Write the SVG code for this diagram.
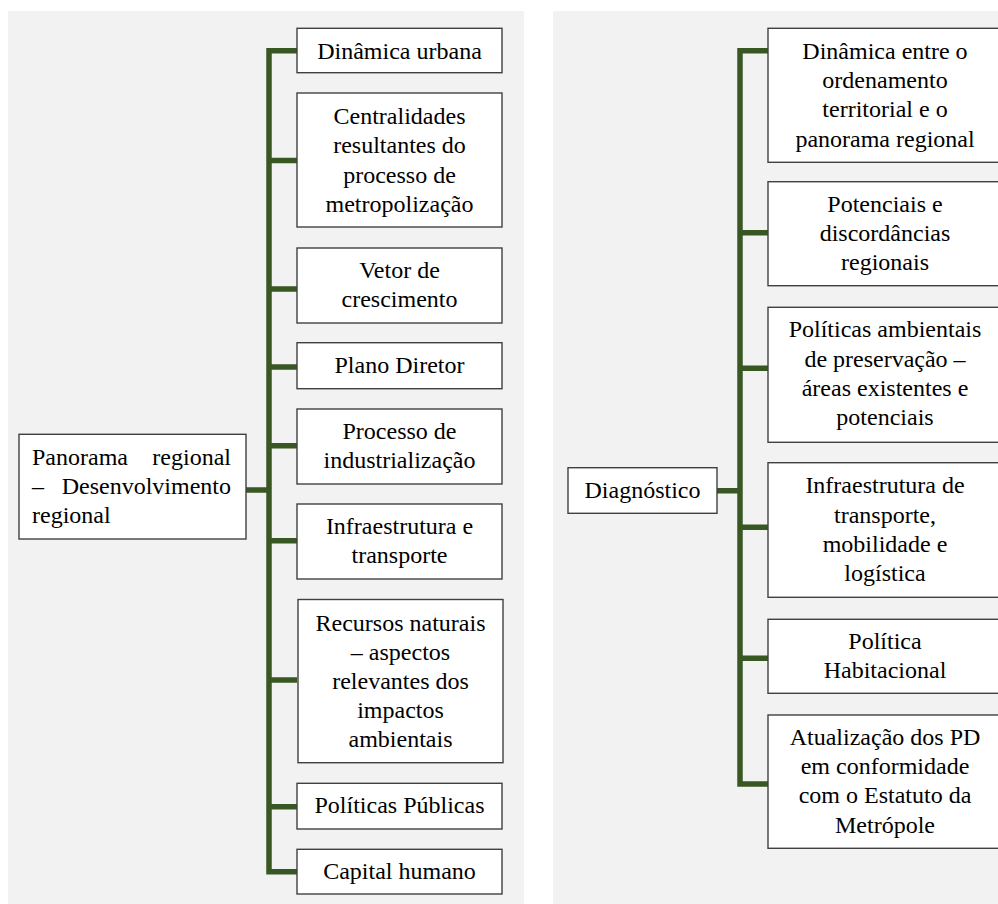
<svg xmlns="http://www.w3.org/2000/svg" width="998" height="904" viewBox="0 0 998 904">
<style>
.panel{fill:#f2f2f2;stroke:none}
.box{fill:#ffffff;stroke:#404040;stroke-width:1.4}
.t{font-family:'Liberation Serif','Times New Roman','DejaVu Serif',serif;font-size:24px;fill:#000000;text-anchor:middle}
.tl{font-family:'Liberation Serif','Times New Roman','DejaVu Serif',serif;font-size:24px;fill:#000000}
.c{fill:none;stroke:#385723;stroke-width:5.5;stroke-linejoin:miter;stroke-linecap:butt}
</style>
<rect width="998" height="904" fill="#ffffff"/>
<rect class="panel" x="8" y="11" width="516" height="893"/>
<rect class="panel" x="553" y="11" width="445" height="893"/>

<g id="connectors">
<path class="c" d="M297,50.7 H269 V871.7 H297"/>
<path class="c" d="M269,160.5 H297 M269,289 H297 M269,367 H297 M269,445.7 H297 M269,540.7 H297 M269,680 H297 M269,806.7 H297 M246,490 H269"/>
<path class="c" d="M768,50.7 H740 V784 H768"/>
<path class="c" d="M740,232.7 H768 M740,368.3 H768 M740,527.3 H768 M740,658.3 H768 M717,490.7 H740"/>
</g>

<g id="root-left">
<rect class="box" x="19" y="434.3" width="227" height="104.7"/>
<text class="tl" x="32" y="465">Panorama</text>
<text class="tl" x="231" y="465" text-anchor="end">regional</text>
<text class="tl" x="32" y="494">–</text>
<text class="tl" x="231" y="494" text-anchor="end">Desenvolvimento</text>
<text class="tl" x="32" y="523">regional</text>
</g>

<g id="n-dinamica-urbana">
<rect class="box" x="297" y="28.3" width="205" height="44.4"/>
<text class="t" x="399.5" y="59">Dinâmica urbana</text>
</g>
<g id="n-centralidades">
<rect class="box" x="297" y="93" width="205" height="134"/>
<text class="t" x="399.5" y="124">Centralidades</text>
<text class="t" x="399.5" y="153.3">resultantes do</text>
<text class="t" x="399.5" y="182.6">processo de</text>
<text class="t" x="399.5" y="211.9">metropolização</text>
</g>
<g id="n-vetor">
<rect class="box" x="297" y="248" width="205" height="75"/>
<text class="t" x="399.5" y="278.3">Vetor de</text>
<text class="t" x="399.5" y="307.3">crescimento</text>
</g>
<g id="n-plano">
<rect class="box" x="297" y="342.7" width="205" height="46"/>
<text class="t" x="399.5" y="372.7">Plano Diretor</text>
</g>
<g id="n-industrializacao">
<rect class="box" x="297" y="409" width="205" height="75"/>
<text class="t" x="399.5" y="439.3">Processo de</text>
<text class="t" x="399.5" y="468">industrialização</text>
</g>
<g id="n-infra-left">
<rect class="box" x="297" y="504" width="205" height="75"/>
<text class="t" x="399.5" y="534">Infraestrutura e</text>
<text class="t" x="399.5" y="563.3">transporte</text>
</g>
<g id="n-recursos">
<rect class="box" x="298" y="599.5" width="205" height="163.2"/>
<text class="t" x="400.5" y="630.7">Recursos naturais</text>
<text class="t" x="400.5" y="660">– aspectos</text>
<text class="t" x="400.5" y="689.3">relevantes dos</text>
<text class="t" x="400.5" y="718">impactos</text>
<text class="t" x="400.5" y="747">ambientais</text>
</g>
<g id="n-politicas-publicas">
<rect class="box" x="297" y="783.3" width="205" height="45.7"/>
<text class="t" x="399.5" y="813.3">Políticas Públicas</text>
</g>
<g id="n-capital">
<rect class="box" x="297" y="849.3" width="205" height="44.7"/>
<text class="t" x="399.5" y="879.3">Capital humano</text>
</g>

<g id="root-right">
<rect class="box" x="568" y="467.7" width="149" height="45.6"/>
<text class="t" x="642.5" y="498.3">Diagnóstico</text>
</g>

<g id="n-dinamica-ordenamento">
<rect class="box" x="768" y="28.3" width="240" height="134"/>
<text class="t" x="885" y="59.3">Dinâmica entre o</text>
<text class="t" x="885" y="88.3">ordenamento</text>
<text class="t" x="885" y="117.3">territorial e o</text>
<text class="t" x="885" y="146.7">panorama regional</text>
</g>
<g id="n-potenciais">
<rect class="box" x="768" y="181.7" width="240" height="104"/>
<text class="t" x="885" y="211.7">Potenciais e</text>
<text class="t" x="885" y="240.7">discordâncias</text>
<text class="t" x="885" y="269.5">regionais</text>
</g>
<g id="n-politicas-ambientais">
<rect class="box" x="768" y="307.3" width="240" height="135"/>
<text class="t" x="885" y="337.3">Políticas ambientais</text>
<text class="t" x="885" y="366.7">de preservação –</text>
<text class="t" x="885" y="396">áreas existentes e</text>
<text class="t" x="885" y="425">potenciais</text>
</g>
<g id="n-infra-right">
<rect class="box" x="768" y="462.7" width="240" height="134.6"/>
<text class="t" x="885" y="493.3">Infraestrutura de</text>
<text class="t" x="885" y="522.7">transporte,</text>
<text class="t" x="885" y="551.7">mobilidade e</text>
<text class="t" x="885" y="580.5">logística</text>
</g>
<g id="n-habitacional">
<rect class="box" x="768" y="619.3" width="240" height="74"/>
<text class="t" x="885" y="649.3">Política</text>
<text class="t" x="885" y="678.3">Habitacional</text>
</g>
<g id="n-atualizacao">
<rect class="box" x="768" y="715" width="240" height="133.3"/>
<text class="t" x="885" y="745">Atualização dos PD</text>
<text class="t" x="885" y="774">em conformidade</text>
<text class="t" x="885" y="803.3">com o Estatuto da</text>
<text class="t" x="885" y="832.7">Metrópole</text>
</g>
</svg>
